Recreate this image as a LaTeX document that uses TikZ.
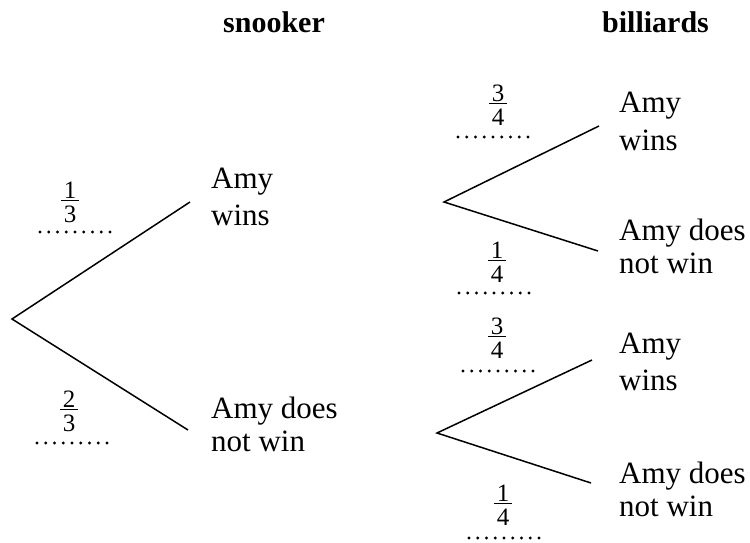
\documentclass[tikz,border=0pt]{standalone}
\usepackage{fontspec}
\setmainfont{Liberation Serif}
\newcommand\myfr[2]{\vbox{\fontsize{25}{25}\selectfont\offinterlineskip\halign{\hfil\kern2.5pt##\kern2.5pt\hfil\cr #1\cr\noalign{\kern1.5pt\hrule height 1.3pt\kern4.5pt}#2\cr}}}
\newcommand\twolines[2]{\begin{tabular}[t]{@{}l@{}}#1\\#2\end{tabular}}
\begin{document}
\begin{tikzpicture}[x=1pt,y=-1pt,
  branch/.style={line width=1.5pt},
  head/.style={anchor=base west, inner sep=0pt, font=\fontsize{30}{36}\selectfont\bfseries},
  winlbl/.style={anchor=base west, inner sep=0pt, font=\fontsize{31}{37}\selectfont},
  loselbl/.style={anchor=base west, inner sep=0pt, font=\fontsize{31}{33}\selectfont},
  prob/.style={anchor=base, inner sep=0pt},
  answer/.style={line width=3.2pt, line cap=round, dash pattern=on 0pt off 8.74pt}
]
\useasboundingbox (0,0) rectangle (750,543);
\fill[white] (0,0) rectangle (750,543);

% headings
\node[head] (snk) at (223,33) {snooker};
\node[head] (bil) at (602,33) {billiards};

% tree points
\coordinate (r0) at (12,319);
\coordinate (a1) at (190,202);
\coordinate (b1) at (188,430);
\coordinate (r1) at (444,202);
\coordinate (a2) at (599,126);
\coordinate (b2) at (598,251);
\coordinate (r2) at (437,433);
\coordinate (a3) at (592,360);
\coordinate (b3) at (591,483);

\draw[branch] (a1) -- (r0) -- (b1);
\draw[branch] (a2) -- (r1) -- (b2);
\draw[branch] (a3) -- (r2) -- (b3);

% outcome labels
\node[winlbl] (w1) at (211,188) {\twolines{Amy}{wins}};
\node[loselbl] (n1) at (211,418) {\twolines{Amy does}{not win}};
\node[winlbl] (w2) at (619,113) {\twolines{Amy}{wins}};
\node[loselbl] (n2) at (619,240) {\twolines{Amy does}{not win}};
\node[winlbl] (w3) at (619,353) {\twolines{Amy}{wins}};
\node[loselbl] (n3) at (619,483) {\twolines{Amy does}{not win}};

% probabilities
\node[prob] (f1) at (70,222) {\myfr{1}{3}};
\node[prob] (f2) at (69,431) {\myfr{2}{3}};
\node[prob] (f3) at (498,125) {\myfr{3}{4}};
\node[prob] (f4) at (497,282) {\myfr{1}{4}};
\node[prob] (f5) at (497,358) {\myfr{3}{4}};
\node[prob] (f6) at (503,525) {\myfr{1}{4}};

% answer dots
\coordinate (d1s) at (40,232);  \coordinate (d1e) at (110,232);
\coordinate (d2s) at (37,443);  \coordinate (d2e) at (107,443);
\coordinate (d3s) at (458,137); \coordinate (d3e) at (528,137);
\coordinate (d4s) at (459,293); \coordinate (d4e) at (529,293);
\coordinate (d5s) at (463,371); \coordinate (d5e) at (533,371);
\coordinate (d6s) at (469,538); \coordinate (d6e) at (539,538);
\foreach \i in {1,...,6} \draw[answer] (d\i s) -- (d\i e);
\end{tikzpicture}
\end{document}
